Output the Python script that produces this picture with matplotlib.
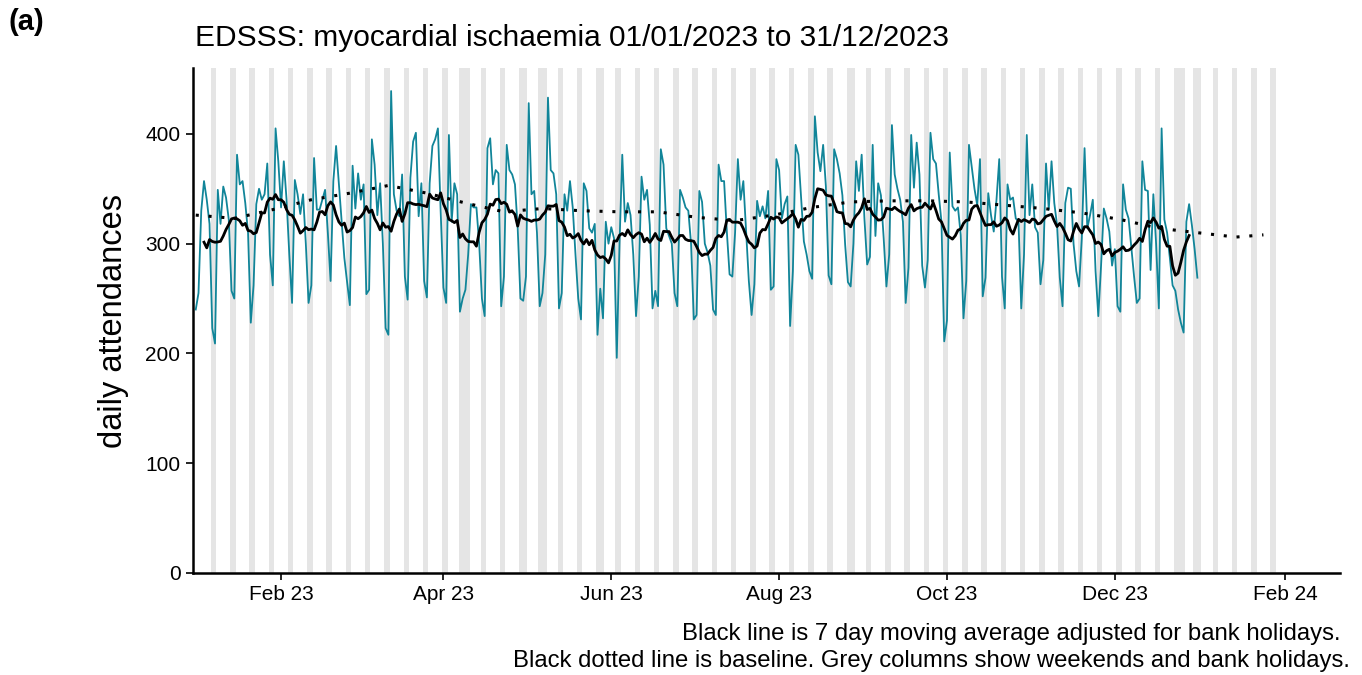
import pandas as pd
import matplotlib
matplotlib.use('Agg')
import matplotlib.pyplot as plt
import matplotlib.dates as mdates

plt.rcParams['font.family'] = ['Liberation Sans', 'DejaVu Sans']

# daily attendances from 01/01/2023, one row per week (Mon..Sun)
start_date = '2023-01-01'
daily_attendances = [
    240,
    255, 330, 357, 340, 318, 223, 209,
    349, 318, 352, 342, 322, 257, 250,
    381, 354, 357, 337, 310, 228, 262,
    336, 350, 340, 345, 373, 290, 262,
    405, 375, 333, 375, 340, 290, 246,
    358, 345, 327, 345, 300, 246, 262,
    378, 331, 331, 340, 349, 310, 266,
    357, 389, 355, 320, 287, 265, 244,
    371, 332, 364, 340, 354, 254, 258,
    395, 372, 326, 355, 300, 223, 217,
    439, 345, 330, 325, 363, 270, 249,
    360, 393, 401, 325, 355, 266, 251,
    355, 389, 395, 405, 330, 260, 246,
    399, 320, 355, 345, 238, 250, 258,
    290, 336, 333, 333, 300, 250, 234,
    387, 396, 354, 367, 364, 243, 270,
    390, 367, 363, 354, 314, 250, 248,
    270, 428, 345, 348, 310, 243, 255,
    290, 433, 367, 364, 345, 241, 255,
    345, 330, 357, 333, 290, 250, 231,
    355, 348, 314, 310, 318, 217, 259,
    232, 320, 300, 315, 305, 196, 300,
    381, 320, 337, 326, 290, 234, 270,
    361, 340, 349, 317, 241, 257, 243,
    386, 372, 314, 307, 300, 255, 243,
    349, 342, 333, 330, 300, 231, 235,
    348, 338, 300, 292, 280, 240, 235,
    372, 357, 357, 311, 272, 270, 310,
    377, 340, 357, 311, 266, 235, 263,
    339, 325, 334, 323, 348, 258, 261,
    377, 367, 323, 336, 343, 225, 275,
    390, 381, 342, 302, 290, 275, 268,
    416, 383, 366, 390, 352, 271, 263,
    386, 377, 364, 344, 299, 265, 261,
    300, 375, 348, 381, 323, 281, 288,
    390, 307, 355, 344, 305, 261, 290,
    408, 363, 350, 340, 320, 246, 278,
    399, 351, 392, 363, 280, 260, 285,
    401, 377, 373, 345, 320, 211, 230,
    383, 334, 330, 333, 308, 232, 266,
    390, 370, 350, 335, 377, 252, 269,
    346, 326, 311, 340, 377, 270, 241,
    354, 340, 342, 323, 320, 241, 290,
    399, 326, 354, 315, 310, 263, 285,
    373, 331, 375, 337, 317, 269, 243,
    337, 351, 350, 300, 275, 261, 305,
    387, 314, 326, 340, 275, 234, 280,
    332, 323, 311, 280, 295, 243, 238,
    354, 331, 323, 296, 270, 246, 250,
    375, 349, 348, 276, 345, 300, 241,
    405, 322, 310, 287, 262, 257, 240,
    228, 219, 320, 336, 317, 295, 269,
]

baseline_dates = ['2023-01-01', '2023-01-15', '2023-01-29', '2023-02-12', '2023-02-26',
                  '2023-03-12', '2023-03-26', '2023-04-09', '2023-04-23', '2023-05-07',
                  '2023-05-21', '2023-06-04', '2023-06-18', '2023-07-02', '2023-07-16',
                  '2023-07-30', '2023-08-13', '2023-08-27', '2023-09-10', '2023-09-24',
                  '2023-10-08', '2023-10-22', '2023-11-05', '2023-11-19', '2023-12-03',
                  '2023-12-17', '2023-12-31', '2024-01-14', '2024-01-24']
baseline_values = [326, 323, 331, 340, 346, 353, 346, 337, 329, 332, 330, 329, 329, 324, 321,
                   326, 333, 338, 339, 339, 338, 335, 332, 328, 322, 314, 310, 306, 308]

bank_holidays = ['2023-01-02', '2023-04-07', '2023-04-10', '2023-05-01', '2023-05-08',
                 '2023-05-29', '2023-08-28', '2023-12-25', '2023-12-26', '2024-01-01']
shade_start, shade_end = '2023-01-07', '2024-01-28'

dates = pd.date_range(start_date, periods=len(daily_attendances), freq='D')
series = pd.Series(daily_attendances, index=dates, dtype=float)
is_bh = dates.isin(pd.to_datetime(bank_holidays))

# 7 day moving average, bank holidays left out of the window
full_window = series.rolling(7, center=True).mean().notna()
moving_avg = series.mask(is_bh).rolling(7, center=True, min_periods=5).mean().where(full_window)

shade_days = pd.date_range(shade_start, shade_end, freq='D')
shade_days = shade_days[(shade_days.dayofweek >= 5) | shade_days.isin(pd.to_datetime(bank_holidays[1:]))]

fig = plt.figure(figsize=(13.62, 6.75), dpi=100)
ax = fig.add_axes([193 / 1362, 1 - 573 / 675, (1340 - 193) / 1362, (573 - 68) / 675])

ax.bar(shade_days, 470, width=1.0, color='#e5e5e5', zorder=0)
ax.plot(dates, series.values, color='#118599', lw=1.3, zorder=2)
ax.plot(dates, moving_avg.values, color='black', lw=2.0, zorder=3)
ax.plot(pd.to_datetime(baseline_dates), baseline_values, color='black', lw=2.2,
        linestyle=(0, (1, 3.2)), zorder=3)

ax.set_xlim(pd.Timestamp('2022-12-31'), pd.Timestamp('2024-02-20 20:00'))
ax.set_ylim(0, 460)
ax.set_yticks([0, 100, 200, 300, 400])
ax.xaxis.set_major_locator(mdates.MonthLocator(bymonth=[2, 4, 6, 8, 10, 12]))
ax.xaxis.set_major_formatter(mdates.DateFormatter('%b %y'))
ax.tick_params(length=5, width=1.2, labelsize=15, pad=4, colors='black')

for side in ['top', 'right']:
    ax.spines[side].set_visible(False)
for side in ['left', 'bottom']:
    ax.spines[side].set_linewidth(1.8)

ax.set_ylabel('daily attendances', fontsize=23.5, labelpad=12)

fig.text(195 / 1362, 1 - 38 / 675, 'EDSSS: myocardial ischaemia 01/01/2023 to 31/12/2023',
         fontsize=21.5, va='center', ha='left')
fig.text(8 / 1362, 1 - 22 / 675, '(a)', fontsize=21, fontweight='bold', va='center', ha='left')
fig.text(1341 / 1362, 1 - 634 / 675, 'Black line is 7 day moving average adjusted for bank holidays.',
         fontsize=17.2, ha='right', va='center')
fig.text(1350 / 1362, 1 - 661 / 675,
         'Black dotted line is baseline. Grey columns show weekends and bank holidays.',
         fontsize=17.2, ha='right', va='center')

fig.savefig('out.png', dpi=100)
